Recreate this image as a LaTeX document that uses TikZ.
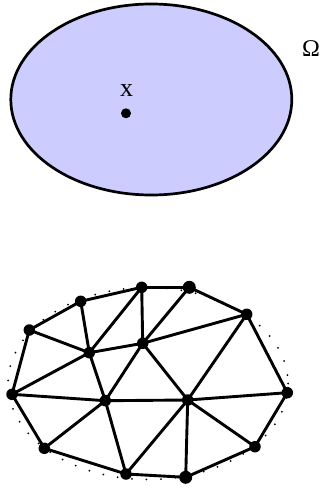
\documentclass[tikz,border=0pt]{standalone}
\usepackage{fontspec}
\setmainfont{Liberation Serif}
\usetikzlibrary{calc,backgrounds}

\begin{document}
\begin{tikzpicture}[x=1pt,y=-1pt,
    vtx/.style={circle,fill=black,inner sep=0pt,minimum size=11.5pt},
    meshedge/.style={line width=2.9pt},
    label/.style={font=\fontsize{26}{28}\selectfont}]
  \useasboundingbox (0,0) rectangle (321,489);

  % Domain
  \draw[line width=2.7pt,fill={rgb,255:red,204;green,204;blue,255}] (151.3,99.5) ellipse [x radius=140.5, y radius=95.5];
  \node[vtx,minimum size=10pt] (X) at (126,113.3) {};
  \node[label,anchor=base] (xl) at (126.5,97) {x};
  \node[label,font=\fontsize{24}{26}\selectfont,anchor=base] (om) at (311,57) {Ω};

  % Coordinates
  \node[vtx] (A) at (141.7,287.3) {};
  \node[vtx,minimum size=13pt] (B) at (189.3,287.3) {};
  \node[vtx] (C) at (80.7,301.3) {};
  \node[vtx] (D) at (246.7,314.3) {};
  \node[vtx] (E) at (29.3,330) {};
  \node[vtx] (F) at (89.3,352.7) {};
  \node[vtx] (G) at (142.7,343.3) {};
  \node[vtx] (H) at (12,394.3) {};
  \node[vtx] (I) at (105.3,400.7) {};
  \node[vtx] (J) at (187.7,400) {};
  \node[vtx] (K) at (287.3,392.7) {};
  \node[vtx] (L) at (44.3,448.3) {};
  \node[vtx] (M) at (255,446.7) {};
  \node[vtx] (N) at (126,474) {};
  \node[vtx,minimum size=13pt] (O) at (185.7,477.3) {};

  % Drawing
  \begin{scope}[on background layer]
    \draw[line width=2pt,line cap=round,dash pattern=on 0pt off 14.5pt] (148,383.5) ellipse [x radius=140, y radius=96];
    \foreach \a/\b in {A/B,A/C,C/E,E/H,H/L,L/N,N/O,O/M,M/K,K/D,D/B,
                       C/F,E/F,F/A,A/G,G/B,G/D,F/G,H/F,H/I,F/I,I/G,G/J,
                       J/D,I/J,J/K,J/M,J/O,I/N,N/J,I/L}
      \draw[meshedge] (\a.center) -- (\b.center);
  \end{scope}
\end{tikzpicture}
\end{document}
